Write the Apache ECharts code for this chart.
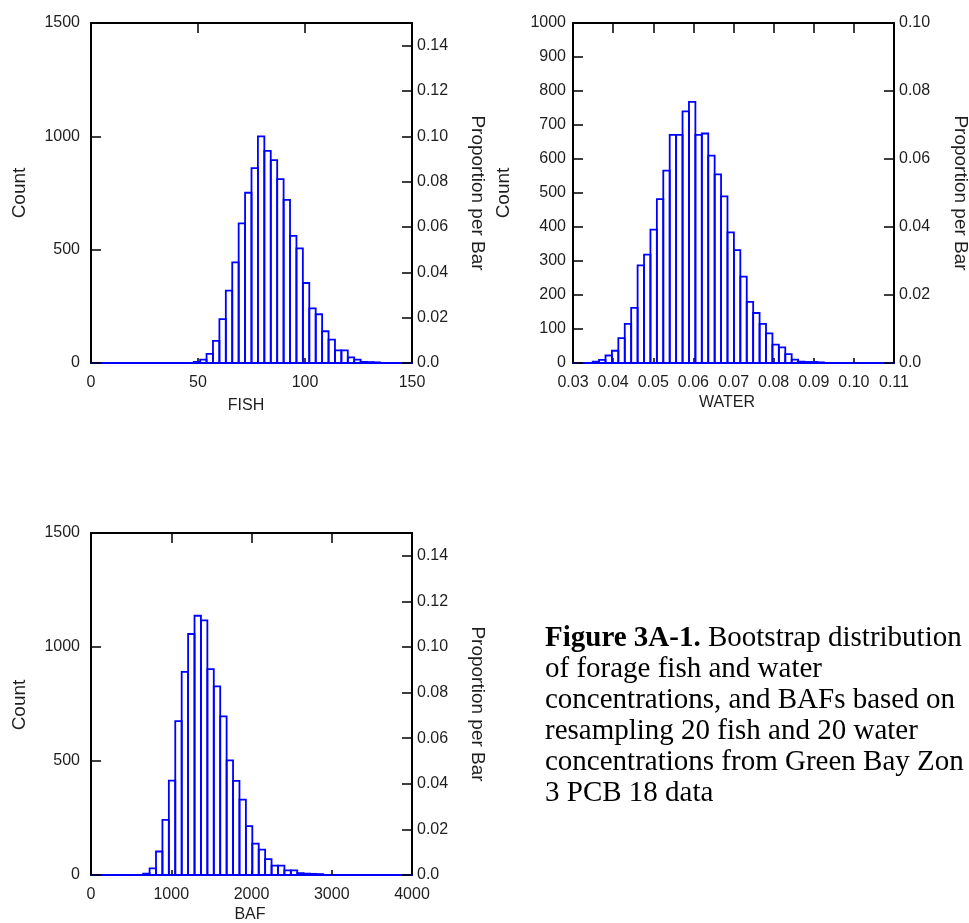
<!DOCTYPE html>
<html>
<head>
<meta charset="utf-8">
<title>Bootstrap distributions</title>
<script src="https://cdn.jsdelivr.net/npm/echarts@6/dist/echarts.min.js"></script>
<style>
  html, body { margin: 0; padding: 0; background: #ffffff; }
  #chart { width: 969px; height: 923px; }
</style>
</head>
<body>
<div id="chart"></div>
<script>
// Forage fish concentration: bootstrap counts per bin
const fishBinStart = 48;
const fishBinWidth = 3;
const fishCounts = [5, 15, 40, 98, 194, 319, 444, 616, 751, 860,
                    1000, 936, 895, 811, 720, 561, 506, 353, 241, 215,
                    140, 103, 56, 56, 25, 15, 5, 4, 3];

// Water concentration: bootstrap counts per bin
const waterBinStart = 0.0349;
const waterBinWidth = 0.0016;
const waterCounts = [4, 9, 22, 36, 73, 115, 162, 287, 319, 392,
                     482, 566, 671, 671, 740, 768, 671, 675, 610, 555,
                     490, 384, 332, 254, 180, 147, 115, 87, 54, 46,
                     26, 10, 4, 3, 3, 2];

// BAF: bootstrap counts per bin
const bafBinStart = 650;
const bafBinWidth = 80;
const bafCounts = [6, 29, 103, 242, 414, 675, 891, 1057, 1137, 1117,
                   903, 827, 696, 503, 413, 331, 214, 138, 111, 70,
                   41, 41, 20, 20, 8, 6, 5, 4];

// Number of bootstrap resamples (count -> proportion per bar)
const totalDraws = 10000;

// Axis ranges and tick steps
const fishX = { min: 0, max: 150, interval: 50 };
const waterX = { min: 0.03, max: 0.11, interval: 0.01 };
const bafX = { min: 0, max: 4000, interval: 1000 };
const fishY = { max: 1500, interval: 500 };
const waterY = { max: 1000, interval: 100 };
const bafY = { max: 1500, interval: 500 };
const fishProp = { interval: 0.02 };
const waterProp = { interval: 0.02 };
const bafProp = { interval: 0.02 };

const captionLines = [
  ['Figure 3A-1.', ' Bootstrap distribution'],
  ['', 'of forage fish and water'],
  ['', 'concentrations, and BAFs based on'],
  ['', 'resampling 20 fish and 20 water'],
  ['', 'concentrations from Green Bay Zon'],
  ['', '3 PCB 18 data']
];

const SANS = '"Liberation Sans", Arial, sans-serif';
const SERIF = '"Liberation Serif", "Times New Roman", serif';
const LABEL_COLOR = '#1e1e1e';
const BAR_BLUE = '#0000ff';

function toBins(start, width, counts) {
  return counts.map((c, i) => [start + i * width, start + (i + 1) * width, c]);
}

const panels = [
  { grid: { left: 91, top: 23, width: 321, height: 340 },
    x: fishX, y: fishY, prop: fishProp,
    bins: toBins(fishBinStart, fishBinWidth, fishCounts),
    xFmt: v => String(Math.round(v)), leftMargin: 11, rightMargin: 5, propMaxLabel: false },
  { grid: { left: 573, top: 23, width: 321, height: 340 },
    x: waterX, y: waterY, prop: waterProp,
    bins: toBins(waterBinStart, waterBinWidth, waterCounts),
    xFmt: v => v.toFixed(2), leftMargin: 7, rightMargin: 5, propMaxLabel: true },
  { grid: { left: 91, top: 533, width: 321, height: 342 },
    x: bafX, y: bafY, prop: bafProp,
    bins: toBins(bafBinStart, bafBinWidth, bafCounts),
    xFmt: v => String(Math.round(v)), leftMargin: 11, rightMargin: 5, propMaxLabel: false }
];

const frameLine = { color: '#000', width: 2 };
const tickLine = { color: '#000', width: 1.5 };
const labelStyle = { fontSize: 16, fontFamily: SANS, color: LABEL_COLOR };

const grid = [], xAxis = [], yAxis = [], series = [];

panels.forEach((p, i) => {
  grid.push(Object.assign({ containLabel: false }, p.grid));

  // bottom axis: blue histogram baseline with short inward ticks
  xAxis.push({
    type: 'value', gridIndex: i, position: 'bottom',
    min: p.x.min, max: p.x.max, interval: p.x.interval,
    axisLine: { show: true, onZero: false, lineStyle: { color: BAR_BLUE, width: 2 } },
    axisTick: { show: true, inside: true, length: 5, lineStyle: tickLine },
    axisLabel: Object.assign({ margin: 12, formatter: p.xFmt }, labelStyle),
    splitLine: { show: false }
  });
  // top frame with inward ticks
  xAxis.push({
    type: 'value', gridIndex: i, position: 'top',
    min: p.x.min, max: p.x.max, interval: p.x.interval,
    axisLine: { show: true, onZero: false, lineStyle: frameLine },
    axisTick: { show: true, inside: true, length: 10, lineStyle: tickLine },
    axisLabel: { show: false },
    splitLine: { show: false }
  });
  // left: count
  yAxis.push({
    type: 'value', gridIndex: i, position: 'left',
    min: 0, max: p.y.max, interval: p.y.interval,
    axisLine: { show: true, onZero: false, lineStyle: frameLine },
    axisTick: { show: true, inside: true, length: 10, lineStyle: tickLine },
    axisLabel: Object.assign({ margin: p.leftMargin, formatter: v => String(v) }, labelStyle),
    splitLine: { show: false }
  });
  // right: proportion per bar
  yAxis.push({
    type: 'value', gridIndex: i, position: 'right',
    min: 0, max: p.y.max / totalDraws, interval: p.prop.interval,
    axisLine: { show: true, onZero: false, lineStyle: frameLine },
    axisTick: { show: true, inside: true, length: 10, lineStyle: tickLine },
    axisLabel: Object.assign({
      margin: p.rightMargin, showMaxLabel: p.propMaxLabel,
      formatter: v => (v === 0 ? '0.0' : v.toFixed(2))
    }, labelStyle),
    splitLine: { show: false }
  });

  series.push({
    type: 'custom',
    xAxisIndex: 2 * i, yAxisIndex: 2 * i,
    data: p.bins,
    encode: { x: [0, 1], y: 2 },
    renderItem: function (params, api) {
      const a = api.coord([api.value(0), 0]);
      const b = api.coord([api.value(1), api.value(2)]);
      return {
        type: 'rect',
        shape: { x: a[0], y: b[1], width: b[0] - a[0], height: a[1] - b[1] },
        style: { fill: 'none', stroke: BAR_BLUE, lineWidth: 1.8 }
      };
    },
    z: 3
  });
});

function title(text, x, y, rot, size) {
  return {
    type: 'text', x: x, y: y, rotation: rot, z: 10,
    style: { text: text, fontSize: size, fontFamily: SANS, fill: LABEL_COLOR,
             align: 'center', verticalAlign: 'middle' }
  };
}

const captionText = captionLines.map(([b, n]) =>
  (b ? '{b|' + b + '}' : '') + '{n|' + n + '}').join('\n');

const graphic = [
  title('Count', 20, 193, Math.PI / 2, 19),
  title('Proportion per Bar', 477, 193, -Math.PI / 2, 19),
  title('FISH', 246, 406, 0, 16),
  title('Count', 503.5, 193, Math.PI / 2, 19),
  title('Proportion per Bar', 960, 193, -Math.PI / 2, 19),
  title('WATER', 727, 403, 0, 16),
  title('Count', 20, 705, Math.PI / 2, 19),
  title('Proportion per Bar', 477, 704, -Math.PI / 2, 19),
  title('BAF', 250, 915, 0, 16),
  {
    type: 'text', x: 545, y: 623, z: 10,
    style: {
      text: captionText, fill: '#000',
      rich: {
        b: { fontFamily: SERIF, fontSize: 29, fontWeight: 'bold', lineHeight: 31, fill: '#000' },
        n: { fontFamily: SERIF, fontSize: 29, lineHeight: 31, fill: '#000' }
      }
    }
  }
];

const chart = echarts.init(document.getElementById('chart'), null, { renderer: 'canvas' });
chart.setOption({
  backgroundColor: '#ffffff',
  animation: false,
  grid: grid,
  xAxis: xAxis,
  yAxis: yAxis,
  series: series,
  graphic: graphic
});
</script>
</body>
</html>
